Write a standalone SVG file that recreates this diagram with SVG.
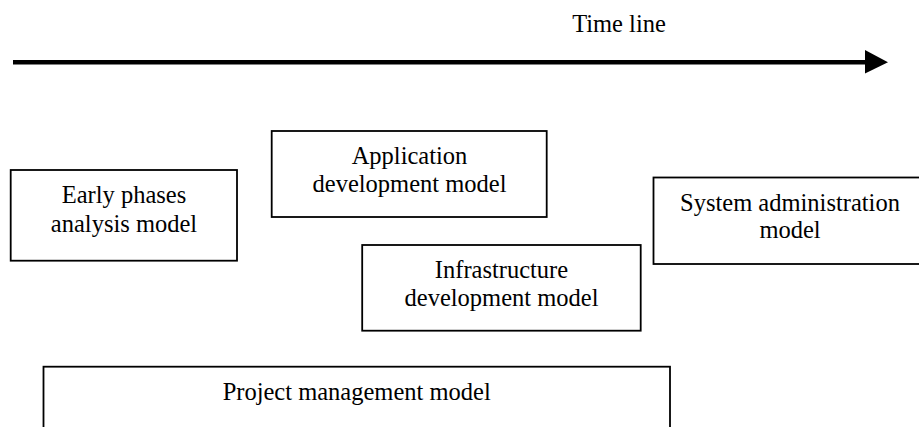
<svg xmlns="http://www.w3.org/2000/svg" width="919" height="427" viewBox="0 0 919 427">
<style>
.box{fill:#fff;stroke:#000;stroke-width:1.8}
.t{font-family:'Liberation Serif',Tinos,'Times New Roman',Times,'Noto Serif','DejaVu Serif',serif;font-size:24.5px;fill:#000;text-anchor:middle}
</style>
<rect width="919" height="427" fill="#fff"/>
<g id="connectors">
<line x1="13" y1="62.3" x2="866" y2="62.3" stroke="#000" stroke-width="4.6"/>
<polygon points="865,50 888,62.3 865,73.5" fill="#000"/>
<text class="t" x="619" y="31.7">Time line</text>
</g>
<g id="early">
<rect class="box" x="10.7" y="170" width="226.3" height="90.7"/>
<text class="t" x="124" y="203.3">Early phases</text>
<text class="t" x="124" y="231.7">analysis model</text>
</g>
<g id="application">
<rect class="box" x="271.7" y="131" width="275" height="86"/>
<text class="t" x="409.5" y="164.3">Application</text>
<text class="t" x="409.5" y="191.7">development model</text>
</g>
<g id="infrastructure">
<rect class="box" x="362.2" y="245" width="278.5" height="85.7"/>
<text class="t" x="501.5" y="278.3">Infrastructure</text>
<text class="t" x="501.5" y="306">development model</text>
</g>
<g id="sysadmin">
<rect class="box" x="653.5" y="177.5" width="273" height="86.5"/>
<text class="t" x="790" y="211">System administration</text>
<text class="t" x="790" y="238.3">model</text>
</g>
<g id="project">
<rect class="box" x="43.5" y="366.7" width="626.5" height="80"/>
<text class="t" x="356.7" y="400">Project management model</text>
</g>
</svg>
